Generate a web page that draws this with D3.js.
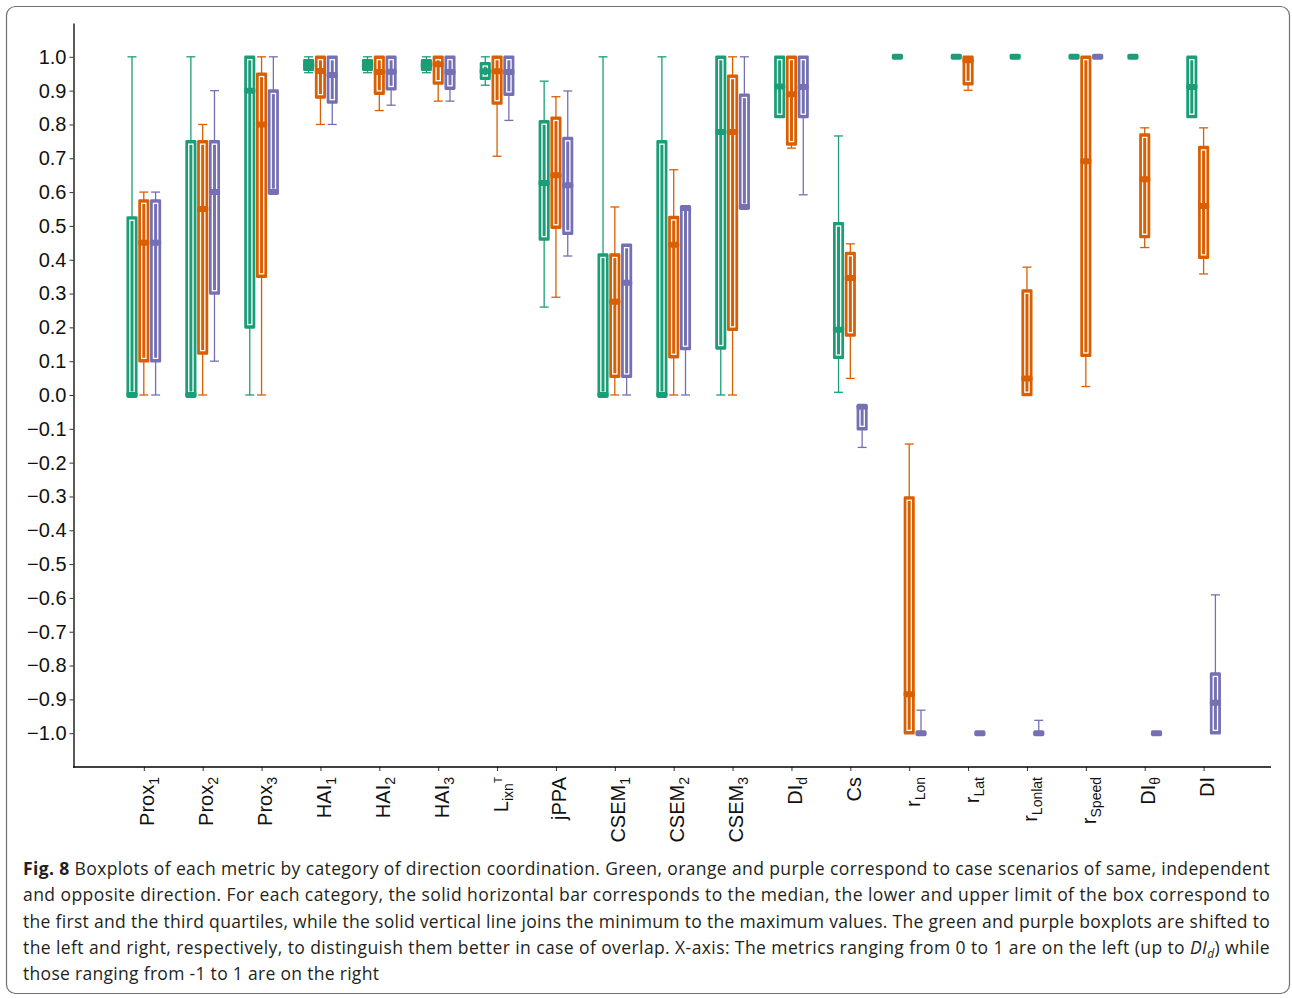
<!DOCTYPE html>
<html><head><meta charset="utf-8">
<script src="https://cdn.jsdelivr.net/npm/d3@7"></script>
<style>body{margin:0;background:#fff} svg{display:block}</style>
</head><body><svg id="c" width="1292" height="999"></svg>
<script>
// ---- data ----
const categories = ["Prox1","Prox2","Prox3","HAI1","HAI2","HAI3","LixnT","jPPA","CSEM1","CSEM2","CSEM3","DId","Cs","rLon","rLat","rLonlat","rSpeed","DItheta","DI"];
const labelBase = ["Prox","Prox","Prox","HAI","HAI","HAI","L","jPPA","CSEM","CSEM","CSEM","DI","Cs","r","r","r","r","DI","DI"];
const labelSub  = ["1","2","3","1","2","3","ixn","","1","2","3","d","","Lon","Lat","Lonlat","Speed","θ",""];
const labelSup  = ["","","","","","","T","","","","","","","","","","","",""];
const yTicks = [-1.0,-0.9,-0.8,-0.7,-0.6,-0.5,-0.4,-0.3,-0.2,-0.1,0.0,0.1,0.2,0.3,0.4,0.5,0.6,0.7,0.8,0.9,1.0];

// five-number summaries [min, q1, median, q3, max]
const sameDir = [
  [0,0,0,0.525,1.0],[0,0,0,0.75,1.0],[0,0.2,0.9,1.0,1.0],
  [0.953,0.962,0.975,0.99,1.0],[0.953,0.962,0.975,0.99,1.0],[0.953,0.962,0.975,0.99,1.0],
  [0.916,0.935,0.957,0.981,1.0],[0.26,0.46,0.627,0.809,0.928],
  [0,0,0,0.415,1.0],[0,0,0,0.75,1.0],[0,0.138,0.778,1.0,1.0],
  [0.822,0.822,0.912,1.0,1.0],[0.008,0.11,0.193,0.508,0.766],
  [1,1,1,1,1],[1,1,1,1,1],[1,1,1,1,1],[1,1,1,1,1],[1,1,1,1,1],
  [0.822,0.822,0.911,1.0,1.0]
];
const independentDir = [
  [0,0.1,0.45,0.575,0.6],[0,0.123,0.55,0.75,0.8],[0,0.35,0.8,0.95,1.0],
  [0.8,0.88,0.958,1.0,1.0],[0.841,0.891,0.955,1.0,1.0],[0.869,0.921,0.978,1.0,1.0],
  [0.706,0.862,0.957,1.0,1.0],[0.289,0.495,0.65,0.82,0.882],
  [0,0.054,0.276,0.415,0.556],[0,0.112,0.444,0.526,0.666],[0,0.193,0.778,0.944,1.0],
  [0.73,0.741,0.889,1.0,1.0],[0.049,0.176,0.346,0.42,0.447],
  [-1,-1,-0.885,-0.303,-0.145],[0.901,0.919,0.99,1.0,1.0],[0,0,0.049,0.309,0.378],
  [0.025,0.116,0.691,1.0,1.0],[0.436,0.467,0.638,0.77,0.79],
  [0.358,0.406,0.559,0.733,0.79]
];
const oppositeDir = [
  [0,0.1,0.45,0.575,0.6],[0.1,0.3,0.6,0.75,0.9],[0.6,0.6,0.6,0.9,1.0],
  [0.8,0.865,0.946,1.0,1.0],[0.857,0.904,0.956,1.0,1.0],[0.869,0.906,0.955,1.0,1.0],
  [0.812,0.888,0.955,1.0,1.0],[0.411,0.477,0.62,0.76,0.899],
  [0,0.054,0.332,0.444,0.444],[0,0.136,0.553,0.556,0.556],[0.556,0.556,0.556,0.888,1.0],
  [0.592,0.822,0.911,1.0,1.0],[-0.155,-0.101,-0.035,-0.032,-0.032],
  [-1,-1,-1,-1,-0.932],[-1,-1,-1,-1,-1],[-1,-1,-1,-1,-0.962],
  [1,1,1,1,1],[-1,-1,-1,-1,-1],
  [-1,-1,-0.91,-0.824,-0.591]
];

// ---- drawing ----
const svg = d3.select("#c");
svg.append("rect").attr("x",6.5).attr("y",6.5).attr("width",1283).attr("height",987)
  .attr("rx",9).attr("fill","#fff").attr("stroke","#6f6f6f").attr("stroke-width",1.2);

const y = d3.scaleLinear().domain([-1.1,1.1]).range([767,23]);
const x = d3.scalePoint().domain(categories).range([143.8,1203.6]);
const fmt = d3.format(".1f");

const series = [
  {stats: sameDir, color:"#1b9e77", offset:-11.8},
  {stats: independentDir, color:"#d95f02", offset:0},
  {stats: oppositeDir, color:"#7570b3", offset:11.8}
];

const axisFont = "'Liberation Sans', Arial, sans-serif";

// y axis
const gy = svg.append("g").attr("transform","translate(73.5,0)")
  .call(d3.axisLeft(y).tickValues(yTicks).tickFormat(d=>fmt(d)).tickSize(4).tickPadding(3).tickSizeOuter(0));
gy.select(".domain").attr("stroke","#000").attr("stroke-width",1.3);
gy.selectAll(".tick line").attr("stroke","#333").attr("stroke-width",1);
gy.selectAll(".tick text").attr("font-family",axisFont).attr("font-size",20).attr("fill","#111");

// x axis
const gx = svg.append("g").attr("transform","translate(0,767)")
  .call(d3.axisBottom(x).tickSize(4).tickSizeOuter(0).tickFormat(""));
gx.select(".domain").remove();
gx.selectAll(".tick line").attr("stroke","#333").attr("stroke-width",1);
svg.append("line").attr("x1",73).attr("x2",1271).attr("y1",767).attr("y2",767)
  .attr("stroke","#000").attr("stroke-width",1.3);

categories.forEach((c,i)=>{
  const t = svg.append("text")
    .attr("transform",`translate(${x(c)+10.5},777) rotate(-90)`)
    .attr("text-anchor","end")
    .attr("font-family",axisFont)
    .attr("font-size",20).attr("fill","#111");
  t.append("tspan").text(labelBase[i]);
  if (labelSub[i]) t.append("tspan").attr("font-size",14).attr("dy",5).text(labelSub[i]);
  if (labelSup[i]) t.append("tspan").attr("font-size",10).attr("dy",-11).text(labelSup[i]);
});

// boxplots
const plot = svg.append("g");
series.forEach(s=>{
  s.stats.forEach((st,i)=>{
    const [mn,q1,md,q3,mx] = st;
    const cx = x(categories[i]) + s.offset;
    const g = plot.append("g");
    g.append("line").attr("x1",cx).attr("x2",cx).attr("y1",y(mn)).attr("y2",y(mx))
      .attr("stroke",s.color).attr("stroke-width",1.3);
    [mn,mx].forEach(v=>g.append("line").attr("x1",cx-4.5).attr("x2",cx+4.5).attr("y1",y(v)).attr("y2",y(v))
      .attr("stroke",s.color).attr("stroke-width",1.3));
    const top = y(q3), h = y(q1)-y(q3);
    g.append("rect").attr("x",cx-4.25).attr("y",top).attr("width",8.5).attr("height",h)
      .attr("fill",s.color).attr("stroke",s.color).attr("stroke-width",2.6).attr("stroke-linejoin","round");
    if (h > 11) {
      g.append("rect").attr("x",cx-2.15).attr("y",top+2.8).attr("width",4.3).attr("height",h-5.6)
        .attr("fill","none").attr("stroke","#fff").attr("stroke-width",1.3);
    }
    g.append("rect").attr("x",cx-5.6).attr("y",y(md)-3).attr("width",11.2).attr("height",6)
      .attr("rx",1.8).attr("fill",s.color);
  });
});

// caption
const cap = svg.append("g").attr("font-family","'Open Sans', sans-serif").attr("font-size",17.5)
  .attr("letter-spacing",0.3).attr("fill","#231f20");
const capX = 23, capRight = 1270, capY0 = 875, capDY = 26.3;
const captionLines = [
  [["b","Fig. 8"],["n"," Boxplots of each metric by category of direction coordination. Green, orange and purple correspond to case scenarios of same, independent"]],
  [["n","and opposite direction. For each category, the solid horizontal bar corresponds to the median, the lower and upper limit of the box correspond to"]],
  [["n","the first and the third quartiles, while the solid vertical line joins the minimum to the maximum values. The green and purple boxplots are shifted to"]],
  [["n","the left and right, respectively, to distinguish them better in case of overlap. X-axis: The metrics ranging from 0 to 1 are on the left (up to "],["i","DI"],["is","d"],["r",") while"]],
  [["n","those ranging from -1 to 1 are on the right"]]
];
captionLines.forEach((parts,li)=>{
  const t = cap.append("text").attr("x",capX).attr("y",capY0+li*capDY).attr("xml:space","preserve");
  parts.forEach(([k,txt])=>{
    const sp = t.append("tspan").text(txt);
    if (k==="b") sp.attr("font-weight","bold");
    if (k==="i") sp.attr("font-style","italic");
    if (k==="is") sp.attr("font-style","italic").attr("font-size",12).attr("dy",4);
    if (k==="r") sp.attr("dy",-4);
  });
  if (li < captionLines.length-1) {
    t.attr("textLength",capRight-capX).attr("lengthAdjust","spacing");
  }
});
</script>
</body></html>
